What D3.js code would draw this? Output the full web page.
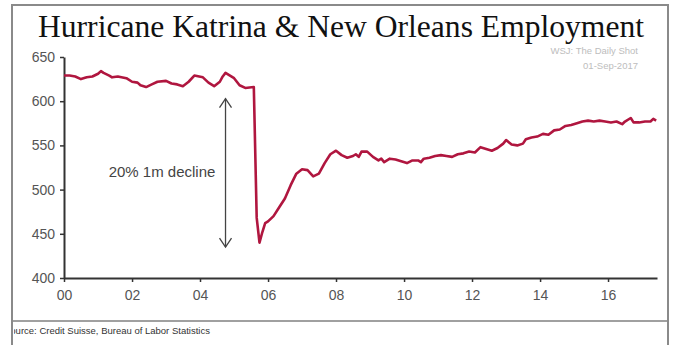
<!DOCTYPE html>
<html>
<head>
<meta charset="utf-8">
<script src="https://cdn.jsdelivr.net/npm/d3@7"></script>
<style>
  body { margin: 0; background: #fff; }
  svg { display: block; }
</style>
</head>
<body>
<svg></svg>
<script>
// monthly employment readings (thousands)
const months = [
  "2000-01","2000-03","2000-05","2000-07","2000-09","2000-11","2001-01","2001-02","2001-03","2001-05",
  "2001-06","2001-08","2001-11","2002-01","2002-03","2002-04","2002-06","2002-08","2002-10","2003-01",
  "2003-03","2003-05","2003-07","2003-09","2003-11","2004-02","2004-04","2004-06","2004-08","2004-09",
  "2004-10","2005-01","2005-03","2005-05","2005-08","2005-09","2005-10","2005-11","2005-12","2006-01",
  "2006-03","2006-05","2006-07","2006-09","2006-11","2007-01","2007-03","2007-05","2007-07","2007-09",
  "2007-11","2008-01","2008-03","2008-05","2008-07","2008-08","2008-09","2008-10","2008-12","2009-02",
  "2009-04","2009-05","2009-06","2009-08","2009-10","2009-12","2010-02","2010-04","2010-06","2010-07",
  "2010-08","2010-10","2010-12","2011-02","2011-04","2011-06","2011-08","2011-10","2011-12","2012-02",
  "2012-04","2012-06","2012-08","2012-10","2012-12","2013-01","2013-03","2013-05","2013-07","2013-08",
  "2013-10","2013-12","2014-02","2014-04","2014-06","2014-08","2014-10","2014-12","2015-02","2015-04",
  "2015-06","2015-08","2015-10","2015-12","2016-02","2016-04","2016-06","2016-07","2016-09","2016-10",
  "2016-12","2017-02","2017-04","2017-05","2017-06"];
const employment = [
  629,629,628,625,627,628,631,634,632,629,
  627,628,626,622,621,618,616,619,622,623,
  620,619,617,622,629,627,621,617,622,628,
  632,626,618,615,616,468,440,452,462,464,
  470,480,490,505,518,523,522,515,518,530,
  540,544,539,536,538,540,537,543,543,537,
  533,535,531,535,534,532,530,533,533,531,
  535,536,538,539,538,537,540,541,543,542,
  548,546,544,547,552,556,551,550,552,557,
  559,560,563,562,567,568,572,573,575,577,
  578,577,578,577,576,577,574,577,581,576,
  576,577,577,580,578];

const yTicks = [400, 450, 500, 550, 600, 650];
const xTickYears = [2000, 2002, 2004, 2006, 2008, 2010, 2012, 2014, 2016];

// annotation: the 20% one-month drop
const arrowMonth = "2004-10";
const arrowRange = [603, 435];
const noteText = "20% 1m decline";

const width = 678, height = 345;
const margin = {top: 57, right: 21, bottom: 67, left: 64};
const parse = d3.timeParse("%Y-%m");

const data = months.map((m, i) => ({date: parse(m), value: employment[i]}));

const svg = d3.select("svg")
    .attr("width", width)
    .attr("height", height)
    .attr("viewBox", [0, 0, width, height]);

const x = d3.scaleTime()
    .domain([new Date(2000, 0, 1), new Date(2017, 5, 10)])
    .range([margin.left, width - margin.right]);

const y = d3.scaleLinear()
    .domain([400, 650])
    .range([height - margin.bottom, margin.top]);

// outer frame
svg.append("rect")
    .attr("x", 12).attr("y", 5)
    .attr("width", 656).attr("height", 350)
    .attr("fill", "none")
    .attr("stroke", "#8a8a8a")
    .attr("stroke-width", 2);

svg.append("text")
    .attr("x", 341).attr("y", 37)
    .attr("text-anchor", "middle")
    .attr("font-family", "Liberation Serif, Times New Roman, serif")
    .attr("font-size", 32)
    .attr("fill", "#111")
    .attr("textLength", 606)
    .attr("lengthAdjust", "spacingAndGlyphs")
    .text("Hurricane Katrina & New Orleans Employment");

svg.append("text")
    .attr("x", 638).attr("y", 54)
    .attr("text-anchor", "end")
    .attr("font-family", "Liberation Sans, Arial, sans-serif")
    .attr("font-size", 9.5)
    .attr("fill", "#bdbdbd")
    .text("WSJ: The Daily Shot");

svg.append("text")
    .attr("x", 638).attr("y", 69)
    .attr("text-anchor", "end")
    .attr("font-family", "Liberation Sans, Arial, sans-serif")
    .attr("font-size", 9.5)
    .attr("fill", "#bdbdbd")
    .text("01-Sep-2017");

// axes
const xAxis = g => g
    .attr("transform", `translate(0,${height - margin.bottom})`)
    .call(d3.axisBottom(x)
        .tickValues(xTickYears.map(yr => new Date(yr, 0, 1)))
        .tickFormat(d3.timeFormat("%y"))
        .tickSize(4)
        .tickSizeOuter(0))
    .call(g => g.select(".domain").attr("stroke", "#333").attr("stroke-width", 2))
    .call(g => g.selectAll(".tick line").attr("stroke", "#333").attr("stroke-width", 1.5))
    .call(g => g.selectAll(".tick text")
        .attr("dy", "1.05em")
        .attr("font-family", "Liberation Sans, Arial, sans-serif")
        .attr("font-size", 14)
        .attr("fill", "#555"));

const yAxis = g => g
    .attr("transform", `translate(${margin.left},0)`)
    .call(d3.axisLeft(y).tickValues(yTicks).tickSize(4).tickSizeOuter(0))
    .call(g => g.select(".domain").attr("stroke", "#333").attr("stroke-width", 2))
    .call(g => g.selectAll(".tick line").attr("stroke", "#333").attr("stroke-width", 1.5))
    .call(g => g.selectAll(".tick text")
        .attr("x", -9)
        .attr("font-family", "Liberation Sans, Arial, sans-serif")
        .attr("font-size", 14)
        .attr("fill", "#555"));

svg.append("g").call(xAxis);
svg.append("g").call(yAxis);

// series
const line = d3.line()
    .x(d => x(d.date))
    .y(d => y(d.value));

svg.append("path")
    .datum(data)
    .attr("fill", "none")
    .attr("stroke", "#b0163f")
    .attr("stroke-width", 2.6)
    .attr("stroke-linejoin", "round")
    .attr("d", line);

// double arrow annotation
const ax = x(parse(arrowMonth));
const aTop = y(arrowRange[0]), aBot = y(arrowRange[1]);
const arrow = svg.append("g")
    .attr("fill", "none")
    .attr("stroke", "#444")
    .attr("stroke-width", 1.3);
arrow.append("line")
    .attr("x1", ax).attr("x2", ax)
    .attr("y1", aTop).attr("y2", aBot);
arrow.append("path").attr("d", `M${ax - 6},${aTop + 9}L${ax},${aTop}L${ax + 6},${aTop + 9}`);
arrow.append("path").attr("d", `M${ax - 6},${aBot - 9}L${ax},${aBot}L${ax + 6},${aBot - 9}`);

svg.append("text")
    .attr("x", 162).attr("y", y(520) + 5)
    .attr("text-anchor", "middle")
    .attr("font-family", "Liberation Sans, Arial, sans-serif")
    .attr("font-size", 15)
    .attr("fill", "#444")
    .text(noteText);

// footer
svg.append("line")
    .attr("x1", 13).attr("x2", 667)
    .attr("y1", 321).attr("y2", 321)
    .attr("stroke", "#a0a0a0")
    .attr("stroke-width", 2);

svg.append("clipPath")
    .attr("id", "src-clip")
  .append("rect")
    .attr("x", 14).attr("y", 322)
    .attr("width", 650).attr("height", 20);

svg.append("text")
    .attr("clip-path", "url(#src-clip)")
    .attr("x", 4).attr("y", 334)
    .attr("font-family", "Liberation Sans, Arial, sans-serif")
    .attr("font-size", 9.5)
    .attr("fill", "#333")
    .text("Source: Credit Suisse, Bureau of Labor Statistics");
</script>
</body>
</html>
